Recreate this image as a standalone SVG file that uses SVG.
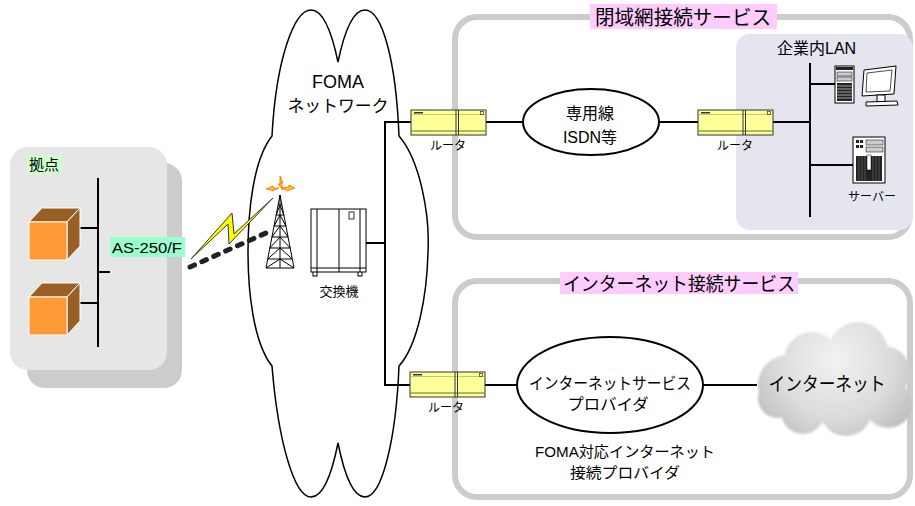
<svg xmlns="http://www.w3.org/2000/svg" width="915" height="506" viewBox="0 0 915 506">
  <style>
    text { font-family: "Liberation Sans", "Noto Sans CJK JP", sans-serif; fill: #000; }
    .c { text-anchor: middle; }
    .wire { stroke: #000; stroke-width: 2; fill: none; }
    .svcbox { fill: #fff; stroke: #cccccc; stroke-width: 6; }
    .title { fill: #ffccff; }
    .cubefront { fill: #ff9933; stroke: #fff; stroke-width: 1; }
    .cubeside { fill: #9a5f22; stroke: #fff; stroke-width: 1; }
    .thin { stroke: #000; stroke-width: 1; fill: #fff; }
  </style>
  <defs>
    <g id="router">
      <rect x="0" y="0" width="75" height="25" fill="#ffff99" stroke="#333" stroke-width="1"/>
      <line x1="0.5" y1="4.5" x2="74.5" y2="4.5" stroke="#b8b860" stroke-width="0.8"/>
      <line x1="0.5" y1="21" x2="74.5" y2="21" stroke="#6b6b30" stroke-width="1"/>
      <rect x="3" y="2" width="9" height="1.5" fill="#333"/>
      <rect x="69.5" y="1.5" width="3" height="3" fill="none" stroke="#333" stroke-width="0.7"/>
      <line x1="45" y1="0" x2="45" y2="25" stroke="#333" stroke-width="1"/>
      <line x1="47.5" y1="0" x2="47.5" y2="25" stroke="#333" stroke-width="1"/>
    </g>
    <radialGradient id="inetGrad" gradientUnits="userSpaceOnUse" cx="835" cy="360" r="95">
      <stop offset="0" stop-color="#f2f2f2"/>
      <stop offset="0.6" stop-color="#dcdcdc"/>
      <stop offset="1" stop-color="#bdbdbd"/>
    </radialGradient>
    <filter id="soft" x="-10%" y="-10%" width="120%" height="120%">
      <feGaussianBlur stdDeviation="0.9"/>
    </filter>
  </defs>

  <!-- FOMA network cloud -->
  <g id="foma-cloud">
    <path d="M 272,136 C 276,60 294,10 311,10 C 325,10 333,38 338,62 C 343,38 351,10 365,10 C 382,10 396,60 399,136
             C 420,160 430,215 428,252 C 427,295 418,345 399,366
             C 396,440 382,497 365,497 C 351,497 343,468 338,443 C 333,468 325,497 311,497 C 294,497 278,440 272,366
             C 253,342 248,290 248,252 C 248,212 253,160 272,136 Z"
          fill="#fff" stroke="#000" stroke-width="1.5"/>
    <text class="c" x="338" y="88" font-size="18">FOMA</text>
    <text class="c" x="338" y="112" font-size="17" textLength="101" lengthAdjust="spacingAndGlyphs">ネットワーク</text>
  </g>

  <!-- Site (拠点) -->
  <g id="site">
    <rect x="27" y="163" width="155" height="225" rx="18" fill="#cccccc"/>
    <rect x="10" y="147" width="157" height="223" rx="18" fill="#e6e6e6"/>
    <rect x="27" y="155" width="35" height="19" fill="#ccffcc"/>
    <text x="29" y="170" font-size="15">拠点</text>
    <line x1="98" y1="178" x2="98" y2="347" class="wire"/>
    <line x1="78" y1="228" x2="98" y2="228" class="wire"/>
    <line x1="78" y1="303" x2="98" y2="303" class="wire"/>
    <line x1="98" y1="272" x2="110" y2="272" class="wire"/>
    <g id="pc1">
      <polygon class="cubeside" points="29,222 42,208 80,208 67,222"/>
      <polygon class="cubeside" points="67,222 80,208 80,246 67,260"/>
      <rect class="cubefront" x="29" y="222" width="38" height="38"/>
    </g>
    <g id="pc2">
      <polygon class="cubeside" points="29,297 42,283 80,283 67,297"/>
      <polygon class="cubeside" points="67,297 80,283 80,321 67,335"/>
      <rect class="cubefront" x="29" y="297" width="38" height="38"/>
    </g>
    <rect x="110" y="237" width="75" height="20" fill="#99ffcc"/>
    <text x="112" y="253" font-size="15" textLength="70" lengthAdjust="spacingAndGlyphs">AS-250/F</text>
  </g>

  <!-- Service areas -->
  <g id="closed-service">
    <rect class="svcbox" x="455" y="17" width="455" height="220" rx="22"/>
    <rect class="title" x="590" y="4" width="187" height="25"/>
    <text class="c" x="683" y="25" font-size="20" textLength="176" lengthAdjust="spacingAndGlyphs">閉域網接続サービス</text>
  </g>
  <g id="internet-service">
    <rect class="svcbox" x="455" y="281" width="455" height="216" rx="22"/>
    <rect class="title" x="560" y="272" width="238" height="22"/>
    <text class="c" x="679" y="291" font-size="19" textLength="232" lengthAdjust="spacingAndGlyphs">インターネット接続サービス</text>
  </g>
  <g id="corporate-lan">
    <rect x="736" y="34" width="177" height="196" rx="14" fill="#e5e5f0"/>
    <text x="777" y="54" font-size="16">企業内LAN</text>
  </g>

  <!-- Connectors -->
  <g id="connectors">
    <polyline class="wire" points="412,122 385,122 385,385 411,385"/>
    <line class="wire" x1="366" y1="243" x2="385" y2="243"/>
    <line class="wire" x1="486" y1="122" x2="523" y2="122"/>
    <line class="wire" x1="659" y1="122" x2="698" y2="122"/>
    <line class="wire" x1="772" y1="122" x2="810" y2="122"/>
    <line class="wire" x1="810" y1="63" x2="810" y2="217"/>
    <line class="wire" x1="810" y1="84" x2="835" y2="84"/>
    <line class="wire" x1="810" y1="165" x2="853" y2="165"/>
    <line class="wire" x1="485" y1="385" x2="517" y2="385"/>
    <line class="wire" x1="703" y1="385" x2="757" y2="385"/>
    <line x1="190" y1="267" x2="266" y2="233" stroke="#222" stroke-width="5" stroke-linecap="round" stroke-dasharray="5 8"/>
  </g>

  <!-- Radio link -->
  <g id="radio">
    <polygon points="191,259 232,213 234,234 273,198 229,244 228,224" fill="#ffff00" stroke="#333" stroke-width="1" stroke-linejoin="miter"/>
  </g>

  <!-- Base station tower -->
  <g id="tower" stroke="#000" stroke-width="1" fill="none">
    <polyline points="266,268 280,195 294,268"/>
    <line x1="280" y1="195" x2="280" y2="268"/>
    <path d="M266,268 H294 M267.7,259 H292.3 M269.8,248 H290.2 M271.9,237 H288.1 M274.1,226 H285.9 M276.2,215 H283.8 M278.1,205 H281.9"/>
    <path d="M276.2,215 L280,205 L283.8,215 M274.1,226 L280,215 L285.9,226 M271.9,237 L280,226 L288.1,237 M269.8,248 L280,237 L290.2,248 M267.7,259 L280,248 L292.3,259 M266,268 L280,259 L294,268"/>
    <g fill="#ffcc00" stroke="#ff6600" stroke-width="0.8">
      <path d="M280,176 L283,183 L281,183 L283,190 L278,184 L280,184 Z"/>
      <path d="M266,189 L273,186 L273,188 L279,188 L272,191 L272,190 Z"/>
      <path d="M295,188 L289,185 L289,187 L282,188 L288,191 L289,190 Z"/>
    </g>
  </g>

  <!-- Exchange -->
  <g id="exchange">
    <rect x="313" y="271" width="4" height="5" fill="#fff" stroke="#000" stroke-width="1"/>
    <rect x="358" y="271" width="4" height="5" fill="#fff" stroke="#000" stroke-width="1"/>
    <rect class="thin" x="311" y="209" width="55" height="63"/>
    <line x1="317" y1="209" x2="317" y2="272" stroke="#000"/>
    <line x1="339" y1="209" x2="339" y2="272" stroke="#000"/>
    <line x1="360" y1="209" x2="360" y2="272" stroke="#000"/>
    <line x1="311" y1="268" x2="366" y2="268" stroke="#000"/>
    <rect x="349" y="212" width="5" height="7" fill="#fff" stroke="#000" stroke-width="0.8"/>
    <text class="c" x="339" y="296" font-size="13">交換機</text>
  </g>

  <!-- Routers -->
  <g id="router-closed">
    <use href="#router" x="411" y="110"/>
    <text class="c" x="448" y="150" font-size="12">ルータ</text>
  </g>
  <g id="router-lan">
    <use href="#router" x="698" y="110"/>
    <text class="c" x="735" y="150" font-size="12">ルータ</text>
  </g>
  <g id="router-isp">
    <use href="#router" x="410" y="372"/>
    <text class="c" x="446" y="412" font-size="12">ルータ</text>
  </g>

  <!-- Leased line / ISDN -->
  <g id="leased-line">
    <ellipse cx="591" cy="122" rx="68" ry="33" fill="#fff" stroke="#000" stroke-width="2"/>
    <text class="c" x="590" y="119" font-size="16">専用線</text>
    <text class="c" x="590" y="143" font-size="16">ISDN等</text>
  </g>

  <!-- ISP -->
  <g id="isp">
    <ellipse cx="610" cy="385" rx="93" ry="48" fill="#fff" stroke="#000" stroke-width="2"/>
    <text class="c" x="610" y="389" font-size="16" textLength="162" lengthAdjust="spacingAndGlyphs">インターネットサービス</text>
    <text class="c" x="608" y="410" font-size="16" textLength="81" lengthAdjust="spacingAndGlyphs">プロバイダ</text>
    <text class="c" x="625" y="457" font-size="15" textLength="180" lengthAdjust="spacingAndGlyphs">FOMA対応インターネット</text>
    <text class="c" x="625" y="478" font-size="15" textLength="110" lengthAdjust="spacingAndGlyphs">接続プロバイダ</text>
  </g>

  <!-- Internet -->
  <g id="internet">
    <g fill="url(#inetGrad)" filter="url(#soft)">
      <ellipse cx="835" cy="385" rx="62" ry="36"/>
      <circle cx="788" cy="385" r="30"/>
      <circle cx="812" cy="360" r="28"/>
      <circle cx="858" cy="352" r="30"/>
      <circle cx="884" cy="372" r="26"/>
      <circle cx="888" cy="404" r="24"/>
      <circle cx="846" cy="410" r="26"/>
      <circle cx="803" cy="412" r="22"/>
      <circle cx="778" cy="398" r="20"/>
    </g>
    <text class="c" x="827" y="391" font-size="19" textLength="117" lengthAdjust="spacingAndGlyphs">インターネット</text>
  </g>

  <!-- Client PC -->
  <g id="client">
    <rect x="835" y="66" width="19" height="37" fill="#fff" stroke="#000" stroke-width="1"/>
    <rect x="836" y="67" width="17" height="3" fill="#222"/>
    <rect x="837" y="72" width="15" height="4" fill="#ccc" stroke="#000" stroke-width="0.5"/>
    <rect x="837" y="77" width="15" height="4" fill="#ccc" stroke="#000" stroke-width="0.5"/>
    <rect x="837" y="83" width="15" height="18" fill="#222"/>
    <path d="M837,86 H852 M837,89 H852 M837,92 H852 M837,95 H852 M837,98 H852" stroke="#fff" stroke-width="0.6"/>
    <polygon points="864,70 896,66 894,94 862,96" fill="#fff" stroke="#000" stroke-width="1"/>
    <polygon points="867,73 892,70 890,91 866,92" fill="#fff" stroke="#000" stroke-width="0.7"/>
    <rect x="877" y="95" width="8" height="7" fill="#fff" stroke="#000" stroke-width="1"/>
    <polygon points="866,102 897,101 898,105 866,106" fill="#fff" stroke="#000" stroke-width="1"/>
  </g>

  <!-- Server -->
  <g id="server">
    <rect x="853" y="137" width="32" height="46" fill="#fff" stroke="#000" stroke-width="1"/>
    <rect x="866" y="140" width="17" height="5" fill="#ccc" stroke="#000" stroke-width="0.5"/>
    <rect x="866" y="147" width="17" height="5" fill="#ccc" stroke="#000" stroke-width="0.5"/>
    <rect x="856" y="140" width="3" height="3" fill="#222"/>
    <rect x="860" y="140" width="3" height="3" fill="#222"/>
    <rect x="856" y="145" width="3" height="3" fill="#222"/>
    <rect x="860" y="145" width="3" height="3" fill="#222"/>
    <rect x="856" y="156" width="26" height="25" fill="#222"/>
    <path d="M859,156 V181 M862,156 V181 M865,156 V181 M873,156 V181 M876,156 V181 M879,156 V181" stroke="#777" stroke-width="0.6"/>
    <rect x="867" y="155" width="4" height="15" fill="#fff" stroke="#000" stroke-width="0.5"/>
    <text class="c" x="872" y="201" font-size="12">サーバー</text>
  </g>
</svg>
